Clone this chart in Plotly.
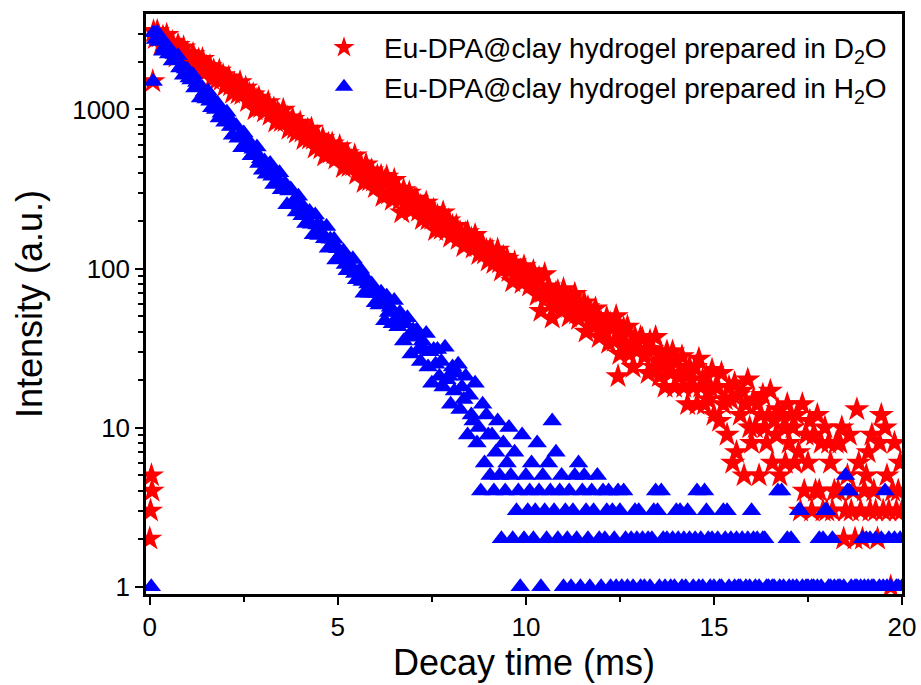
import plotly.graph_objects as go

# ---------------- data (counts) ----------------
# pre-pulse / rising-edge points
RED_EARLY_T = [0.0, 0.02, 0.045, 0.06, 0.08]
RED_EARLY = [2, 3, 5, 4, 1500]
BLUE_EARLY_T = [0.04, 0.09]
BLUE_EARLY = [1, 1500]

# decay channels: sampling starts at 0.1 ms, one channel every 0.05 ms
T_START = 0.1
T_STEP = 0.05

RED_D2O = [
    3090, 2804, 3103, 2862, 2541, 2861, 2649, 2935, 2445, 2586, 2647, 2378, 2145, 2537, 2393, 2267, 2446, 2057, 2256, 2087,
    2012, 2222, 2051, 1859, 2049, 1876, 2070, 1698, 1853, 1779, 1864, 1550, 1757, 1665, 1548, 1751, 1531, 1636, 1407, 1533,
    1584, 1414, 1269, 1452, 1389, 1261, 1480, 1244, 1274, 1366, 1126, 1250, 1170, 1240, 1001, 1149, 1183, 1032, 1097, 968,
    1043, 1108, 923, 947, 1012, 836, 957, 915, 842, 993, 843, 888, 754, 816, 870, 759, 714, 792, 825, 724,
    650, 729, 745, 655, 756, 653, 575, 672, 638, 569, 657, 512, 591, 607, 535, 609, 529, 490, 543, 587,
    532, 433, 490, 530, 439, 477, 445, 513, 393, 413, 456, 414, 349, 450, 403, 358, 413, 356, 324, 381,
    341, 381, 285, 353, 377, 295, 323, 270, 360, 297, 317, 270, 225, 310, 287, 258, 299, 233, 258, 274,
    271, 230, 246, 204, 245, 259, 203, 218, 205, 233, 174, 214, 204, 177, 225, 186, 174, 200, 158, 184,
    166, 185, 153, 169, 161, 138, 166, 169, 147, 154, 135, 162, 138, 123, 140, 142, 124, 130, 112, 131,
    129, 108, 119, 131, 109, 97, 118, 106, 115, 96, 104, 83, 109, 96, 89, 97, 81, 103, 86, 91,
    78, 89, 96, 81, 68, 87, 54, 71, 92, 65, 77, 70, 49, 57, 70, 72, 62, 56, 74, 63,
    64, 50, 65, 58, 69, 52, 48, 58, 52, 61, 40, 57, 47, 50, 43, 56, 50, 37, 46, 41,
    41, 49, 34, 45, 42, 35, 50, 21, 29, 40, 42, 33, 43, 29, 34, 24, 37, 34, 31, 37,
    36, 28, 31, 22, 35, 31, 24, 37, 26, 21, 29, 26, 18, 30, 26, 22, 30, 18, 26, 21,
    21, 28, 18, 23, 14, 24, 20, 18, 24, 14, 27, 18, 20, 14, 21, 15, 18, 23, 12, 18,
    18, 11, 22, 14, 15, 9, 18, 15, 6, 19, 7, 16, 12, 17, 5, 14, 20, 10, 8, 15,
    10, 14, 5, 12, 16, 10, 8, 12, 17, 6, 11, 9, 13, 5, 12, 10, 6, 14, 8, 12,
    10, 6, 12, 7, 3, 14, 4, 9, 6, 11, 3, 9, 4, 12, 4, 8, 3, 10, 3, 8,
    6, 3, 4, 8, 4, 8, 10, 2, 3, 5, 9, 3, 4, 2, 13, 6, 3, 2, 4, 5,
    7, 3, 9, 4, 3, 2, 8, 12, 3, 10, 5, 3, 1, 4, 8, 3, 4, 6, 3,
]

BLUE_H2O = [
    3036, 2748, 3050, 2674, 2747, 2323, 2472, 2552, 2235, 2298, 2016, 2217, 2025, 2176, 1819, 1885, 1641, 1796, 1780, 1578,
    1530, 1652, 1362, 1479, 1384, 1179, 1369, 1282, 1165, 1301, 1124, 1025, 1137, 1000, 1095, 883, 946, 948, 831, 961,
    886, 780, 689, 786, 790, 659, 691, 575, 710, 618, 574, 625, 511, 562, 518, 580, 457, 489, 415, 474,
    392, 440, 457, 380, 337, 397, 362, 400, 313, 319, 342, 252, 307, 316, 260, 268, 227, 285, 249, 215,
    242, 192, 219, 228, 190, 163, 217, 188, 161, 185, 165, 154, 184, 134, 153, 138, 153, 113, 133, 115,
    125, 129, 106, 97, 114, 104, 115, 93, 85, 95, 99, 83, 70, 87, 80, 70, 80, 70, 61, 70,
    59, 71, 63, 47, 67, 53, 57, 45, 63, 48, 43, 53, 45, 35, 45, 49, 37, 29, 41, 38,
    41, 31, 26, 35, 31, 39, 24, 30, 19, 31, 25, 31, 21, 26, 18, 32, 20, 21, 14, 24,
    17, 22, 25, 13, 18, 15, 21, 9, 16, 12, 11, 19, 8, 10, 4, 14, 6, 12, 9, 5,
    9, 4, 7, 11, 5, 2, 8, 4, 6, 10, 5, 2, 7, 3, 4, 1, 9, 2, 5, 3,
    4, 6, 2, 3, 8, 4, 1, 5, 3, 2, 6, 4, 11, 3, 7, 2, 4, 5, 1, 3,
    2, 4, 1, 3, 5, 2, 6, 1, 4, 5, 3, 2, 1, 4, 3, 0, 5, 2, 1, 4,
    2, 3, 4, 1, 3, 2, 1, 4, 3, 1, 4, 2, 1, 0, 2, 1, 3, 2, 3, 1,
    2, 1, 0, 2, 1, 2, 3, 4, 3, 1, 4, 2, 1, 2, 0, 1, 2, 1, 3, 2,
    3, 1, 2, 1, 3, 2, 0, 1, 2, 4, 1, 2, 1, 4, 3, 2, 1, 2, 1, 0,
    2, 1, 1, 3, 2, 3, 1, 2, 0, 1, 2, 1, 1, 2, 0, 1, 2, 1, 3, 2,
    1, 2, 1, 0, 2, 2, 1, 1, 0, 1, 1, 0, 4, 1, 4, 1, 0, 2, 1, 2,
    1, 0, 1, 3, 3, 1, 0, 1, 1, 0, 1, 1, 0, 1, 2, 1, 2, 3, 3, 1,
    1, 2, 1, 0, 1, 1, 0, 1, 5, 4, 4, 1, 0, 1, 1, 0, 1, 2, 1, 2,
    1, 2, 1, 1, 2, 0, 1, 2, 1, 4, 1, 2, 1, 0, 2, 1, 1, 2, 1,
]

X_TICKS = [0, 5, 10, 15, 20]
Y_TICKS = [1, 10, 100, 1000]
Y_TICK_TEXT = ["1", "10", "100", "1000"]

NAME_D2O = "Eu-DPA@clay hydrogel prepared in D<sub>2</sub>O"
NAME_H2O = "Eu-DPA@clay hydrogel prepared in H<sub>2</sub>O"


def channel_times(values):
    return [round(T_START + T_STEP * k, 4) for k in range(len(values))]


def counts(values):
    # zero counts cannot be shown on a log axis
    return [v if v > 0 else None for v in values]


red_x = RED_EARLY_T + channel_times(RED_D2O)
red_y = counts(RED_EARLY + RED_D2O)
blue_x = BLUE_EARLY_T + channel_times(BLUE_H2O)
blue_y = counts(BLUE_EARLY + BLUE_H2O)

FONT = "Arial, 'Liberation Sans', sans-serif"

fig = go.Figure()
fig.add_trace(go.Scatter(
    x=red_x, y=red_y, mode="markers", name=NAME_D2O,
    marker=dict(symbol="star", size=19, color="#ff0000", line=dict(width=0)),
))
fig.add_trace(go.Scatter(
    x=blue_x, y=blue_y, mode="markers", name=NAME_H2O,
    marker=dict(symbol="triangle-up", size=17, color="#0000ff", line=dict(width=0)),
))

minor_y = [m * 10 ** e for e in range(0, 4) for m in range(2, 10) if m * 10 ** e < 4000]

axis_common = dict(
    showline=True, linewidth=2.5, linecolor="black", mirror=True,
    ticks="outside", ticklen=8, tickwidth=2, tickcolor="black",
    showgrid=False, zeroline=False, automargin=False,
    tickfont=dict(family=FONT, size=26, color="black"),
)

fig.update_layout(
    width=921, height=685,
    margin=dict(l=146, r=19, t=14, b=91),
    paper_bgcolor="white", plot_bgcolor="white",
    font=dict(family=FONT, color="black"),
    showlegend=True,
    legend=dict(
        x=0.209, y=0.985, xanchor="left", yanchor="top",
        bgcolor="rgba(0,0,0,0)", font=dict(family=FONT, size=28, color="black"),
        itemsizing="trace", itemwidth=70, tracegroupgap=0,
    ),
    xaxis=dict(
        **axis_common,
        range=[-0.1, 20], tickvals=X_TICKS,
        minor=dict(dtick=2.5, ticks="outside", ticklen=5, tickwidth=2, tickcolor="black"),
        title=dict(text="Decay time (ms)", font=dict(family=FONT, size=36, color="black"), standoff=8),
    ),
    yaxis=dict(
        **axis_common,
        type="log", range=[-0.046, 3.6],
        tickvals=Y_TICKS, ticktext=Y_TICK_TEXT,
        minor=dict(tickvals=minor_y, ticks="outside", ticklen=5, tickwidth=2, tickcolor="black"),
        title=dict(text="Intensity (a.u.)", font=dict(family=FONT, size=36, color="black"), standoff=19),
    ),
)

fig.write_html("out.html")
